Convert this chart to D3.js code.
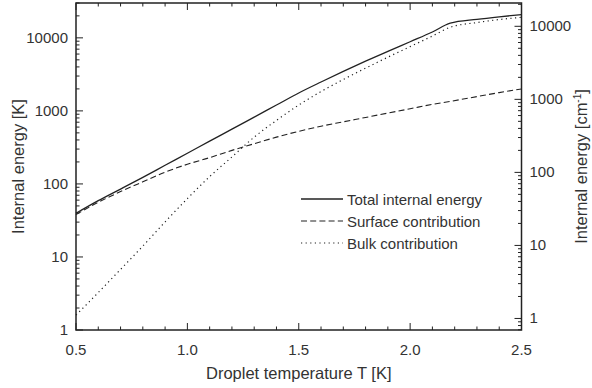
<!DOCTYPE html>
<html><head><meta charset="utf-8">
<script src="https://cdn.jsdelivr.net/npm/d3@7"></script>
<style>
body{margin:0;background:#fff}
svg{display:block}
text{font-family:"Liberation Sans",Arial,Helvetica,sans-serif;fill:#333}
</style>
</head><body>
<svg id="chart" width="592" height="388"></svg>
<script>
// ---- data ----
const temperatures  = [0.5,0.6,0.7,0.8,0.9,1.0,1.1,1.2,1.3,1.4,1.5,1.6,1.7,1.8,1.9,2.0,2.1,2.18,2.3,2.4,2.5];
const totalEnergy   = [39.6,59,85,123,180,263,385,562,822,1202,1758,2483,3470,4790,6530,8850,12020,15850,17900,19400,20800];
const surfaceEnergy = [38,56,78.5,107,145,186,229,288,355,437,525,617,708,813,933,1070,1230,1350,1570,1780,1995];
const bulkEnergy    = [1.6,3.26,6.76,14.1,30.2,63,126,234,437,741,1202,1841,2692,3846,5433,7586,10590,13960,16200,17800,19100];
const seriesNames   = ["Total internal energy","Surface contribution","Bulk contribution"];
const xTickValues   = [0.5,1.0,1.5,2.0,2.5];
const yTickValuesK  = [1,10,100,1000,10000];
const yTickValuesCm = [1,10,100,1000,10000];
const kelvinPerWavenumber = 1.4388;

// ---- layout ----
const L = 76, R = 521.5, T = 3, B = 330;
const svg = d3.select("#chart");
const ink = "#222";

const x = d3.scaleLinear().domain([0.5, 2.5]).range([L, R]);
const yK = d3.scaleLog().domain([1, 30000]).range([B, T]);
const yCm = d3.scaleLog().domain([1/kelvinPerWavenumber, 30000/kelvinPerWavenumber]).range([B, T]);

function minorLog(scale){
  const [a,b] = scale.domain(); const out=[];
  for(let d=Math.floor(Math.log10(a))-1; d<=Math.ceil(Math.log10(b)); d++){
    for(let k=1;k<=9;k++){ const v=k*Math.pow(10,d); if(v>=a*0.9999 && v<=b*1.0001) out.push(v);}
  }
  return out;
}

const g = svg.append("g");

// curves
const series = [
  {vals: totalEnergy, dash: null, w: 1.3},
  {vals: surfaceEnergy, dash: "6,3.2", w: 1.1},
  {vals: bulkEnergy, dash: "1.2,3.4", w: 1.2}
];
const line = d3.line().curve(d3.curveMonotoneX);
series.forEach(s=>{
  g.append("path")
    .attr("d", line(temperatures.map((t,i)=>[x(t), yK(s.vals[i])])))
    .attr("fill","none").attr("stroke",ink).attr("stroke-width",s.w)
    .attr("stroke-dasharray", s.dash);
});

// x ticks (bottom & top, inward)
const xMinor = d3.range(5, 26).map(v=>v/10);
xMinor.forEach(v=>{
  const major = xTickValues.some(m=>Math.abs(m-v)<1e-9);
  const len = major ? 7 : 3.5;
  g.append("line").attr("x1",x(v)).attr("x2",x(v)).attr("y1",B).attr("y2",B-len).attr("stroke",ink).attr("stroke-width",1);
  g.append("line").attr("x1",x(v)).attr("x2",x(v)).attr("y1",T).attr("y2",T+len).attr("stroke",ink).attr("stroke-width",1);
});
xTickValues.forEach(v=>{
  g.append("text").attr("x",x(v)).attr("y",B+25).attr("text-anchor","middle").attr("font-size",15).text(d3.format(".1f")(v));
});

// left ticks (K)
minorLog(yK).forEach(v=>{
  const major = yTickValuesK.includes(v);
  g.append("line").attr("x1",L).attr("x2",L+(major?7:3.5)).attr("y1",yK(v)).attr("y2",yK(v)).attr("stroke",ink).attr("stroke-width",1);
});
yTickValuesK.forEach(v=>{
  g.append("text").attr("x",L-8).attr("y",yK(v)+5).attr("text-anchor","end").attr("font-size",15).text(v);
});

// right ticks (cm^-1)
minorLog(yCm).forEach(v=>{
  const major = yTickValuesCm.includes(v);
  g.append("line").attr("x1",R).attr("x2",R-(major?7:3.5)).attr("y1",yCm(v)).attr("y2",yCm(v)).attr("stroke",ink).attr("stroke-width",1);
});
yTickValuesCm.forEach(v=>{
  g.append("text").attr("x",R+8).attr("y",yCm(v)+5).attr("text-anchor","start").attr("font-size",15).text(v);
});

// frame
g.append("rect").attr("x",L).attr("y",T).attr("width",R-L).attr("height",B-T)
  .attr("fill","none").attr("stroke",ink).attr("stroke-width",1.5);

// axis titles
g.append("text").attr("x",(L+R)/2).attr("y",379).attr("text-anchor","middle").attr("font-size",16.5).text("Droplet temperature T [K]");
g.append("text").attr("transform",`translate(24,${(T+B)/2}) rotate(-90)`).attr("text-anchor","middle").attr("font-size",16.5).text("Internal energy [K]");
const rt = g.append("text").attr("transform",`translate(587,${(T+B)/2}) rotate(-90)`).attr("text-anchor","middle").attr("font-size",16.5);
rt.append("tspan").text("Internal energy [cm");
rt.append("tspan").attr("dy",-6).attr("font-size",10).text("-1");
rt.append("tspan").attr("dy",6).text("]");

// legend
const legY = [199, 221, 243];
series.forEach((s,i)=>{
  g.append("line").attr("x1",301).attr("x2",343).attr("y1",legY[i]).attr("y2",legY[i])
    .attr("stroke",ink).attr("stroke-width",s.w).attr("stroke-dasharray",s.dash);
  g.append("text").attr("x",347).attr("y",legY[i]+5.5).attr("font-size",15).text(seriesNames[i]);
});
</script>
</body></html>
